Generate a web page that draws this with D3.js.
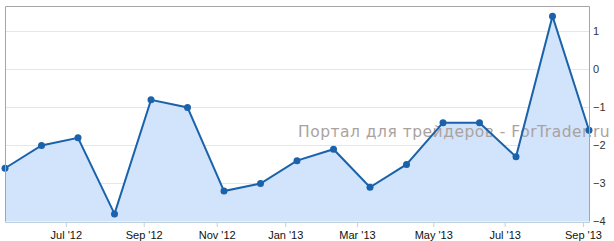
<!DOCTYPE html>
<html>
<head>
<meta charset="utf-8">
<script src="https://cdnjs.cloudflare.com/ajax/libs/d3/7.8.5/d3.min.js"></script>
<style>
  body { margin: 0; background: #fff; }
  svg { display: block; font-family: "Liberation Sans", Arial, sans-serif; }
</style>
</head>
<body>
<div id="chart"></div>
<script>
// release dates (approx.) and values
const dates = [
  "2012-05-10", "2012-06-11", "2012-07-11", "2012-08-08", "2012-09-07",
  "2012-10-08", "2012-11-07", "2012-12-11", "2013-01-11", "2013-02-11",
  "2013-03-11", "2013-04-09", "2013-05-09", "2013-06-11", "2013-07-10",
  "2013-08-07", "2013-09-06"
];
const values = [
  -2.6, -2.0, -1.8, -3.8, -0.8, -1.0, -3.2, -3.0, -2.4, -2.1,
  -3.1, -2.5, -1.4, -1.4, -2.3, 1.4, -1.6
];
const yTicks = [1, 0, -1, -2, -3, -4];
const watermark = "Портал для трейдеров - ForTrader.ru";

const width = 614, height = 241;
const plotLeft = 5, plotRight = 589, plotTop = 6, plotBottom = 221.5;

const svg = d3.select("#chart").append("svg")
  .attr("width", width)
  .attr("height", height);

const parse = d3.timeParse("%Y-%m-%d");
const data = dates.map((d, i) => ({ date: parse(d), value: values[i] }));

// ordinal-like time axis: points evenly spaced, ticks interpolated between them
const step = (plotRight - plotLeft) / (data.length - 1);
const x = d3.scaleTime()
  .domain(data.map(d => d.date))
  .range(data.map((d, i) => plotLeft + i * step));

const y = d3.scaleLinear()
  .domain([-4, 1])
  .range([plotBottom, 31.4]);

// grid lines
svg.append("g")
  .selectAll("line")
  .data(yTicks.filter(t => t > -4))
  .join("line")
  .attr("x1", plotLeft)
  .attr("x2", plotRight)
  .attr("y1", d => Math.round(y(d)) + 0.5)
  .attr("y2", d => Math.round(y(d)) + 0.5)
  .attr("stroke", "#e6e6e6");

// area + line
const area = d3.area()
  .x(d => x(d.date))
  .y0(plotBottom)
  .y1(d => y(d.value));

const line = d3.line()
  .x(d => x(d.date))
  .y(d => y(d.value));

svg.append("path")
  .datum(data)
  .attr("d", area)
  .attr("fill", "#d1e4fb");

// watermark text
svg.append("text")
  .attr("x", 298)
  .attr("y", 137)
  .attr("font-size", 15.5)
  .attr("font-family", "DejaVu Sans, sans-serif")
  .attr("letter-spacing", 0.5)
  .attr("fill", "#aaa2a1")
  .text(watermark);

svg.append("path")
  .datum(data)
  .attr("d", line)
  .attr("fill", "none")
  .attr("stroke", "#1a62aa")
  .attr("stroke-width", 2);

svg.append("g")
  .selectAll("circle")
  .data(data)
  .join("circle")
  .attr("cx", d => x(d.date))
  .attr("cy", d => y(d.value))
  .attr("r", 3.5)
  .attr("fill", "#1a62aa");

// plot frame (left, top, right)
svg.append("path")
  .attr("d", `M${plotLeft + 0.5},${plotBottom}V${plotTop + 0.5}H${plotRight + 0.5}V${plotBottom}`)
  .attr("fill", "none")
  .attr("stroke", "#a5a5a5");

// x axis
const fmt = d3.timeFormat("%b '%y");
const xAxis = d3.axisBottom(x)
  .ticks(d3.timeMonth.every(2))
  .tickFormat(fmt)
  .tickSize(5)
  .tickPadding(4);

const gx = svg.append("g")
  .attr("transform", `translate(0,${plotBottom + 0.5})`)
  .call(xAxis);
gx.select(".domain")
  .attr("d", `M${plotLeft},0.5H${plotRight + 1}`)
  .attr("stroke", "#c0d0e0");
gx.selectAll(".tick line").attr("stroke", "#c0d0e0");
gx.selectAll(".tick text")
  .attr("font-size", 11)
  .attr("font-family", "Liberation Sans, Arial, sans-serif")
  .attr("fill", "#111");

// y axis labels on the right
const yFmt = d3.format("d");
svg.append("g")
  .selectAll("text")
  .data(yTicks)
  .join("text")
  .attr("x", 593)
  .attr("y", d => y(d))
  .attr("dy", "0.35em")
  .attr("font-size", 11)
  .attr("fill", "#333")
  .text(d => d < 0 ? "\u2212" + Math.abs(d) : yFmt(d));
</script>
</body>
</html>
